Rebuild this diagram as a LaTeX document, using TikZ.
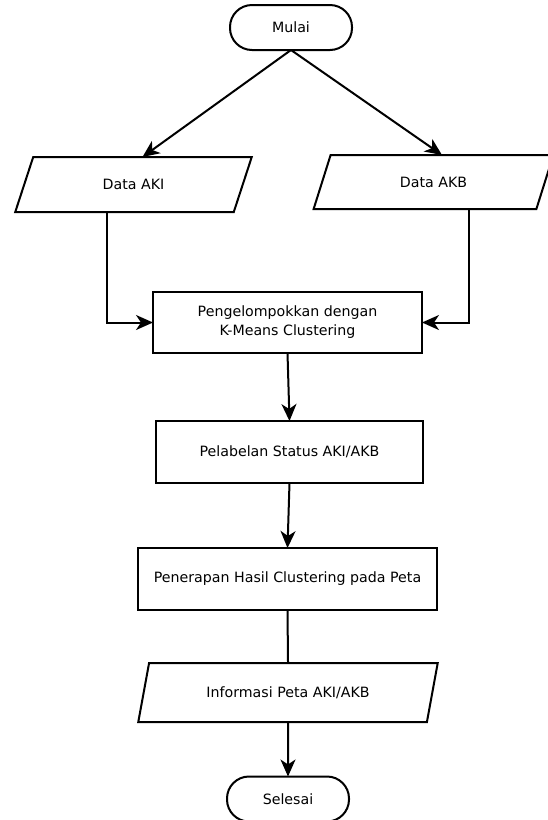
\documentclass[tikz,border=0pt]{standalone}
\usepackage{fontspec}
\setmainfont{DejaVu Sans}
\usetikzlibrary{shapes.geometric,arrows.meta}

\begin{document}
\begin{tikzpicture}[x=1pt,y=-1pt,line width=2pt,
  font=\fontsize{14.2}{19}\selectfont,
  every node/.style={draw,outer sep=0pt,inner sep=2pt,align=center},
  terminal/.style={rectangle,rounded corners=22pt,minimum width=122pt,minimum height=45pt},
  proses/.style={rectangle,minimum height=61pt},
  io/.style={trapezium,trapezium left angle=68,trapezium right angle=112,
    trapezium stretches=true,minimum height=55pt},
  arr/.style={-{Stealth[length=17pt,width=15pt,inset=5pt]}}]
  \useasboundingbox (0,0) rectangle (548,820);

  \node[terminal] (mulai) at (291,27.5) {Mulai};
  \node[io,minimum width=237pt] (aki) at (133.5,184.5) {Data AKI};
  \node[io,minimum width=241pt,minimum height=54pt] (akb) at (433.5,182) {Data AKB};
  \node[proses,minimum width=269pt] (kmeans) at (287.5,322.5)
    {Pengelompokkan dengan\\K-Means Clustering};
  \node[proses,minimum width=267pt,minimum height=62pt] (label) at (289.5,452)
    {Pelabelan Status AKI/AKB};
  \node[proses,minimum width=299pt,minimum height=62pt] (peta) at (287.5,579)
    {Penerapan Hasil Clustering pada Peta};
  \node[io,minimum width=300pt,minimum height=59pt] (info) at (288,692.5)
    {Informasi Peta AKI/AKB};
  \node[terminal] (selesai) at (288,799) {Selesai};

  \path[arr]
    (mulai.south) edge (aki.top side)
                  edge (akb.top side)
    (kmeans.south) edge (label.north)
    (label.south) edge (peta.north)
    (info.south) edge (selesai.north);
  \draw (peta.south) -- (info.north);
  \draw[arr] (aki.south) ++(-27,0) |- (kmeans.west);
  \draw[arr] (akb.south) ++(35.5,0) |- (kmeans.east);
\end{tikzpicture}
\end{document}
